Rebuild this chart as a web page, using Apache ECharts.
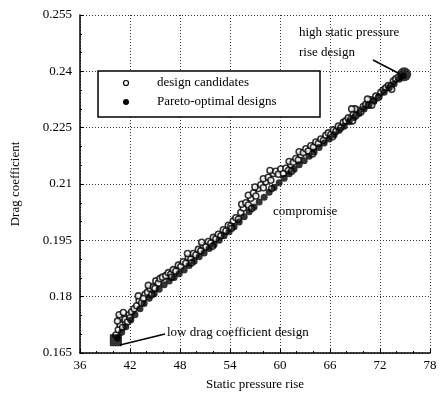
<!DOCTYPE html>
<html><head><meta charset="utf-8">
<script src="https://cdn.jsdelivr.net/npm/echarts@6/dist/echarts.min.js"></script>
<style>html,body{margin:0;padding:0;background:#fff}#c{width:442px;height:396px}</style>
</head><body><div id="c"></div>
<script>
const xTicks = [36, 42, 48, 54, 60, 66, 72, 78];
const yTicks = [0.165, 0.18, 0.195, 0.21, 0.225, 0.24, 0.255];
const xName = 'Static pressure rise';
const yName = 'Drag coefficient';
const legendNames = ['design candidates', 'Pareto-optimal designs'];
const annotations = ['high static pressure', 'rise design', 'compromise', 'low drag coefficient design'];

const candidates = [
[40.3,0.1698],[40.6,0.1712],[40.8,0.1726],[41.1,0.1718],[40.9,0.1745],[41.4,0.1740],[41.7,0.1733],[40.7,0.1752],[41.2,0.1758],[41.9,0.1752],[42.2,0.1760],[40.5,0.1735],
[42.5,0.1768],[42.8,0.1776],[43.1,0.1790],[43.4,0.1784],[43.0,0.1802],[43.8,0.1806],[44.1,0.1812],[44.4,0.1822],[44.2,0.1830],[44.8,0.1826],[45.1,0.1842],[45.4,0.1836],[45.6,0.1848],[45.9,0.1852],[46.3,0.1856],[46.6,0.1864],[45.0,0.1822],[43.6,0.1795],
[46.9,0.1860],[47.2,0.1872],[47.5,0.1868],[47.8,0.1884],[48.1,0.1880],[48.4,0.1893],[48.7,0.1889],[49.0,0.1904],[49.3,0.1900],[49.6,0.1915],[49.9,0.1911],[50.2,0.1926],[50.5,0.1922],[50.8,0.1937],[51.1,0.1933],[51.4,0.1947],[51.7,0.1943],[52.0,0.1958],[48.9,0.1915],[50.6,0.1945],
[52.3,0.1954],[52.6,0.1966],[52.9,0.1962],[53.2,0.1978],[53.5,0.1975],[53.8,0.1990],[54.1,0.1988],[54.4,0.2002],[54.7,0.2010],[55.0,0.2006],[55.3,0.2024],[55.6,0.2036],[55.4,0.2046],[55.9,0.2050],[56.2,0.2044],[56.5,0.2062],[56.2,0.2070],[56.8,0.2076],[57.1,0.2068],[57.4,0.2088],[57.0,0.2092],[57.7,0.2098],[58.0,0.2090],[58.3,0.2106],[58.0,0.2114],[58.6,0.2118],[58.9,0.2110],[59.2,0.2128],[58.8,0.2136],[59.5,0.2134],[59.8,0.2126],[60.1,0.2140],
[60.4,0.2128],[60.7,0.2142],[61.0,0.2136],[61.3,0.2152],[61.1,0.2160],[61.6,0.2158],[61.9,0.2168],[62.2,0.2164],[62.5,0.2178],[62.3,0.2186],[62.8,0.2184],[63.1,0.2194],[63.4,0.2188],[63.7,0.2202],[64.0,0.2198],[64.3,0.2212],[64.6,0.2208],[64.9,0.2220],[65.2,0.2216],[65.5,0.2230],[65.8,0.2236],[66.1,0.2232],[66.4,0.2244],[66.7,0.2240],[67.0,0.2254],[67.3,0.2250],[67.6,0.2264],[67.9,0.2268],
[68.2,0.2276],[68.5,0.2272],[68.8,0.2286],[69.1,0.2282],[69.4,0.2296],[69.7,0.2292],[70.0,0.2306],[70.3,0.2312],[70.6,0.2310],[70.9,0.2324],[71.2,0.2320],[71.5,0.2334],[71.8,0.2330],[72.1,0.2344],[72.4,0.2350],[72.7,0.2356],[73.0,0.2362],[73.3,0.2360],[73.6,0.2374],[73.9,0.2380],[74.2,0.2384],[69.0,0.2300],[70.5,0.2326],[68.6,0.2300],
[42.0,0.1744],[44.6,0.1805],[47.0,0.1852],[49.4,0.1890],[51.9,0.1934],[54.2,0.1982],[56.6,0.2035],[59.0,0.2088],[61.4,0.2134],[63.9,0.2180],[66.3,0.2226],[68.7,0.2268],[71.0,0.2310],[73.4,0.2352]
];

const pareto = [
[40.5,0.1689],[41.0,0.1705],[41.5,0.1720],[42.1,0.1738],[42.6,0.1752],[43.2,0.1768],[43.7,0.1782],[44.3,0.1796],[44.9,0.1808],[45.5,0.1820],[46.1,0.1832],[46.7,0.1842],[47.3,0.1851],[47.9,0.1861],[48.5,0.1871],[49.1,0.1883],[49.7,0.1894],[50.3,0.1906],[50.9,0.1916],[51.5,0.1928],[52.1,0.1939],[52.7,0.1950],[53.3,0.1962],[53.9,0.1973],[54.5,0.1986],[55.1,0.1999],[55.7,0.2013],[56.3,0.2026],[56.9,0.2039],[57.5,0.2052],[58.1,0.2065],[58.7,0.2078],[59.3,0.2091],[59.9,0.2103],[60.5,0.2115],[61.1,0.2127],[61.7,0.2139],[62.3,0.2151],[62.9,0.2162],[63.5,0.2174],[64.1,0.2185],[64.7,0.2197],[65.3,0.2209],[65.9,0.2220],[66.5,0.2231],[67.1,0.2243],[67.7,0.2254],[68.3,0.2266],[68.9,0.2277],[69.5,0.2288],[70.1,0.2300],[70.7,0.2311],[71.3,0.2322],[71.9,0.2333],[72.5,0.2344],[73.1,0.2356],[73.7,0.2367],[74.3,0.2379],[74.8,0.2388]
];

const lowDragDesign = [[40.3,0.1684]];
const highPressureDesign = [[74.9,0.2392]];

const FONT = '"Liberation Serif","DejaVu Serif",serif';
const chart = echarts.init(document.getElementById('c'), null, {renderer:'canvas'});
const dotted = {color:'#333', width:1, type:[1,2]};
chart.setOption({
  animation:false,
  backgroundColor:'#fff',
  grid:{left:80, right:12, top:15, bottom:38, containLabel:false},
  xAxis:{
    type:'value', min:xTicks[0], max:xTicks[xTicks.length-1], interval:xTicks[1]-xTicks[0],
    name:xName, nameLocation:'middle', nameGap:25,
    nameTextStyle:{fontFamily:FONT, fontSize:13, color:'#000'},
    axisLine:{show:true, onZero:false, lineStyle:{color:'#000', width:1.5}},
    axisTick:{show:true, inside:true, length:4, lineStyle:{color:'#000'}},
    minorTick:{show:true, splitNumber:3, length:2, lineStyle:{color:'#000'}},
    axisLabel:{fontFamily:FONT, fontSize:13, color:'#000', margin:6},
    splitLine:{show:true, lineStyle:dotted}
  },
  yAxis:{
    type:'value', min:yTicks[0], max:yTicks[yTicks.length-1], interval:0.015,
    name:yName, nameLocation:'middle', nameGap:58, nameRotate:90,
    nameTextStyle:{fontFamily:FONT, fontSize:13, color:'#000'},
    axisLine:{show:true, onZero:false, lineStyle:{color:'#000', width:1.5}},
    axisTick:{show:true, inside:true, length:4, lineStyle:{color:'#000'}},
    minorTick:{show:true, splitNumber:3, length:2, lineStyle:{color:'#000'}},
    axisLabel:{fontFamily:FONT, fontSize:13, color:'#000', margin:8,
      formatter:(v)=>{const t=yTicks.find(k=>Math.abs(k-v)<1e-9); return t!==undefined?String(t):'';}},
    splitLine:{show:true, lineStyle:dotted}
  },
  series:[
    {name:legendNames[0], type:'scatter', data:candidates, symbol:'circle', symbolSize:6,
     itemStyle:{color:'#fff', borderColor:'#000', borderWidth:1.6}, z:2},
    {name:legendNames[1], type:'scatter', data:pareto, symbol:'circle', symbolSize:7,
     itemStyle:{color:'#000'}, z:3},
    {name:'low', type:'scatter', data:lowDragDesign, symbol:'rect', symbolSize:11,
     itemStyle:{color:'#000', borderColor:'#000', borderWidth:1}, z:4},
    {name:'high', type:'scatter', data:highPressureDesign, symbol:'circle', symbolSize:14,
     itemStyle:{color:'#000'}, z:4}
  ],
  graphic:[
    {type:'rect', shape:{x:98, y:71, width:222, height:46}, style:{fill:'#fff', stroke:'#000', lineWidth:1.5}, z:10},
    {type:'circle', shape:{cx:126, cy:83, r:2.5}, style:{fill:'#fff', stroke:'#000', lineWidth:1.2}, z:11},
    {type:'circle', shape:{cx:126, cy:102, r:3}, style:{fill:'#000'}, z:11},
    {type:'text', x:157, y:83, style:{text:legendNames[0], font:'13px '+FONT, fill:'#000', verticalAlign:'middle'}, z:11},
    {type:'text', x:157, y:102, style:{text:legendNames[1], font:'13px '+FONT, fill:'#000', verticalAlign:'middle'}, z:11},
    {type:'text', x:299, y:33, style:{text:annotations[0], font:'13px '+FONT, fill:'#000', verticalAlign:'middle'}, z:11},
    {type:'text', x:299, y:53, style:{text:annotations[1], font:'13px '+FONT, fill:'#000', verticalAlign:'middle'}, z:11},
    {type:'line', shape:{x1:373, y1:60, x2:400, y2:74}, style:{stroke:'#000', lineWidth:1.5}, z:11},
    {type:'text', x:273, y:212, style:{text:annotations[2], font:'13px '+FONT, fill:'#000', verticalAlign:'middle'}, z:11},
    {type:'text', x:167, y:333, style:{text:annotations[3], font:'13px '+FONT, fill:'#000', verticalAlign:'middle'}, z:11},
    {type:'line', shape:{x1:165, y1:334, x2:120, y2:345}, style:{stroke:'#000', lineWidth:1.5}, z:11}
  ]
});
</script></body></html>
